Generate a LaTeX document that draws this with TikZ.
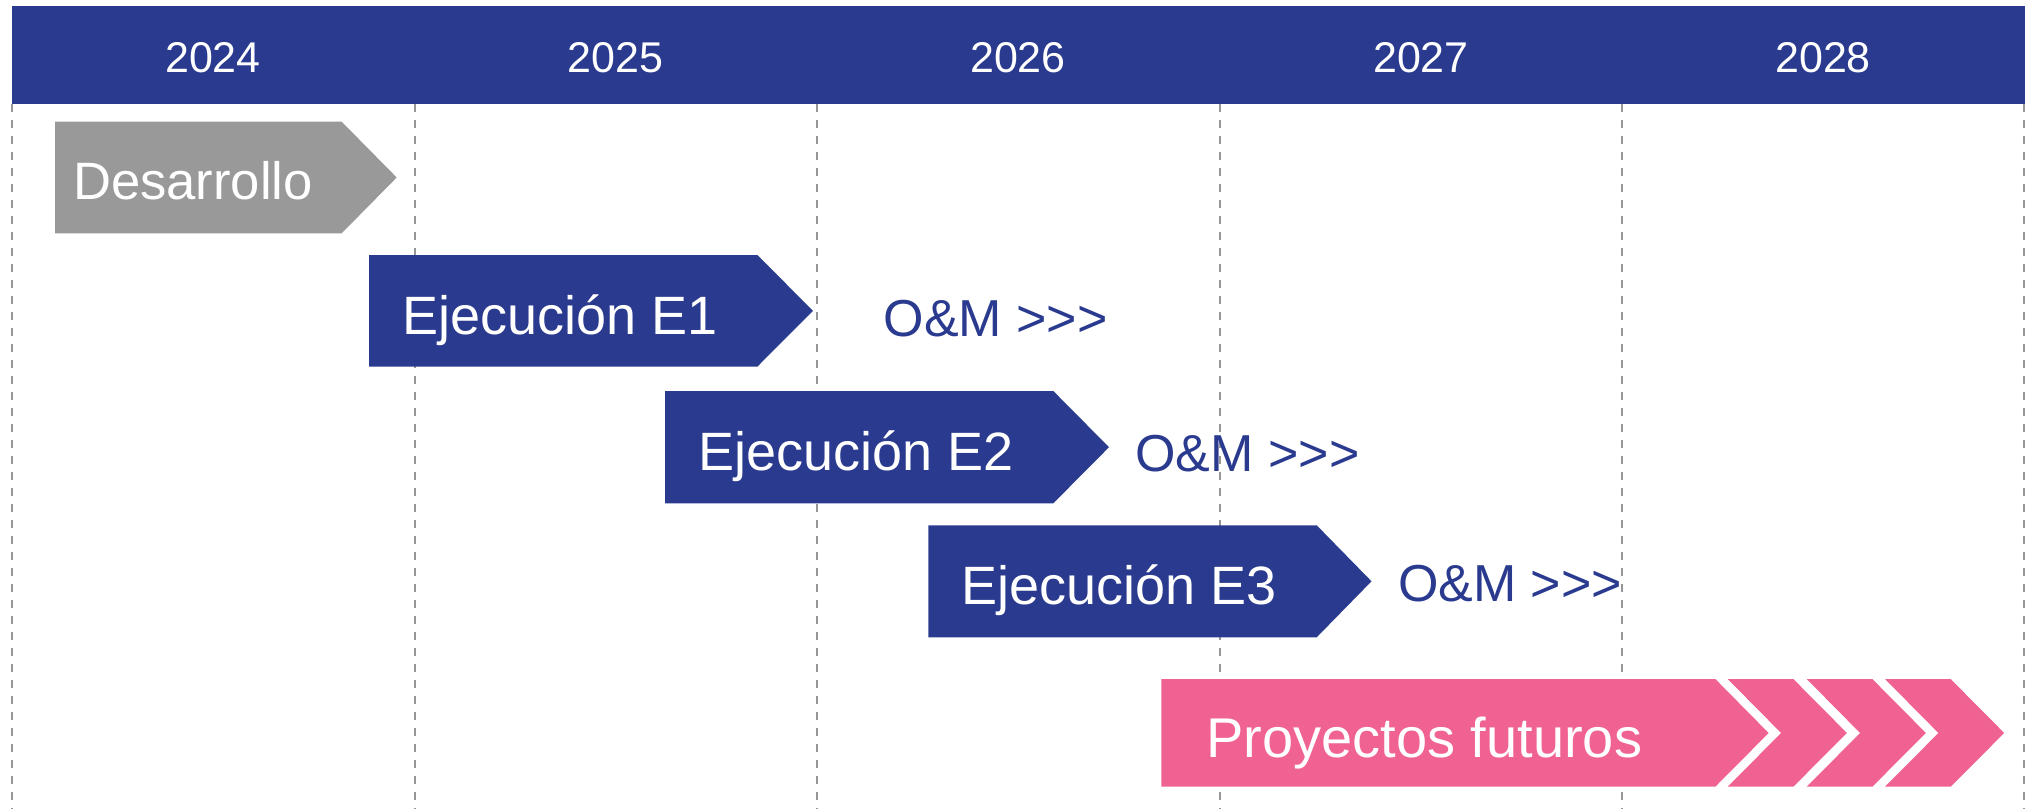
\documentclass[tikz,border=0pt]{standalone}
\usepackage{fontspec}
\setmainfont{Liberation Sans}
\definecolor{hdrblue}{RGB}{41,58,143}
\definecolor{boxgray}{RGB}{153,153,153}
\definecolor{futpink}{RGB}{240,98,146}
\definecolor{gridgray}{RGB}{150,150,150}
\begin{document}
\begin{tikzpicture}[x=0.5pt,y=-0.5pt,
  yearlbl/.style={text=white, font=\fontsize{21.5}{24}\selectfont, anchor=base, inner sep=0pt},
  barlbl/.style={text=white, font=\fontsize{27}{30}\selectfont, anchor=base west, inner sep=0pt},
  omlbl/.style={text=hdrblue, font=\fontsize{26}{30}\selectfont, anchor=base west, inner sep=0pt},
  gridline/.style={draw=gridgray, line width=1pt, dash pattern=on 4pt off 4pt}]
\useasboundingbox (0,0) rectangle (2031,809);
% grid lines
\foreach \gx in {12,414.5,817,1220,1622,2024.3}
  \draw[gridline] (\gx,104) -- (\gx,809);
% header
\fill[hdrblue] (12,6) rectangle (2024.5,104);
\node[yearlbl] (y2024) at (213,72) {2024};
\node[yearlbl] (y2025) at (615.5,72) {2025};
\node[yearlbl] (y2026) at (1018,72) {2026};
\node[yearlbl] (y2027) at (1421,72) {2027};
\node[yearlbl] (y2028) at (1823,72) {2028};
% Desarrollo
\fill[boxgray] (55,121.7) -- (341.7,121.7) -- (396.7,177.5) -- (341.7,233.3) -- (55,233.3) -- cycle;
\node[barlbl, font=\fontsize{26.3}{30}\selectfont] (des) at (72.7,199) {Desarrollo};
% E1
\fill[hdrblue] (369,255) -- (757.3,255) -- (813,310.8) -- (757.3,366.7) -- (369,366.7) -- cycle;
\node[barlbl] (e1) at (401.7,334) {Ejecución E1};
\node[omlbl] (om1) at (883.3,336) {O\&M >{}>{}>};
% E2
\fill[hdrblue] (665,391) -- (1053.3,391) -- (1109,447.2) -- (1053.3,503.3) -- (665,503.3) -- cycle;
\node[barlbl] (e2) at (698.3,470) {Ejecución E2};
\node[omlbl] (om2) at (1135,471) {O\&M >{}>{}>};
% E3
\fill[hdrblue] (928.3,525.3) -- (1316.7,525.3) -- (1371.5,581.3) -- (1316.7,637.3) -- (928.3,637.3) -- cycle;
\node[barlbl] (e3) at (961,604.3) {Ejecución E3};
\node[omlbl] (om3) at (1397.7,601) {O\&M >{}>{}>};
% Proyectos futuros
\fill[futpink] (1161.3,679) -- (1715.3,679) -- (1768.6,733) -- (1715.3,786.7) -- (1161.3,786.7) -- cycle;
\foreach \cl in {1727.7,1806.7,1885}
  \fill[futpink] (\cl,679) -- ({\cl+65.6},679) -- ({\cl+119.2},733) -- ({\cl+65.6},786.7) -- (\cl,786.7) -- ({\cl+53.4},733) -- cycle;
\node[barlbl, font=\fontsize{28}{30}\selectfont] (fut) at (1206,757.3) {Proyectos futuros};
\end{tikzpicture}
\end{document}
